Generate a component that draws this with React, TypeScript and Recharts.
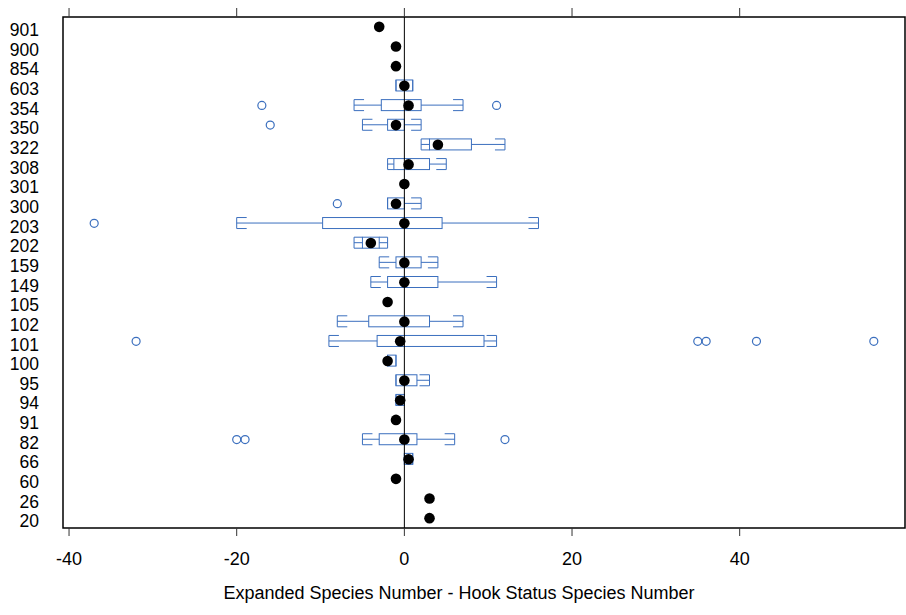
import React from 'react'
import { ComposedChart, Bar, Scatter, XAxis, YAxis, ReferenceLine, ReferenceArea, Label } from 'recharts'

// rows, top to bottom
const categories = ['901', '900', '854', '603', '354', '350', '322', '308', '301', '300', '203', '202', '159', '149', '105', '102', '101', '100', '95', '94', '91', '82', '66', '60', '26', '20']
const medians = [-3, -1, -1, 0, 0.5, -1, 4, 0.5, 0, -1, 0, -4, 0, 0, -2, 0, -0.5, -2, 0, -0.5, -1, 0, 0.5, -1, 3, 3]
const whiskerLow = [null, null, null, -1, -6, -5, 2, -2, null, -2, -20, -6, -3, -4, null, -8, -9, -2, -1, -1, null, -5, 0, null, null, null]
const boxLow = [null, null, null, -1, -2.75, -2, 3, -1.25, null, -2, -9.75, -5, -1, -2, null, -4.25, -3.25, -2, -1, -1, null, -3, 0, null, null, null]
const boxHigh = [null, null, null, 1, 2, 0, 8, 3, null, 0, 4.5, -3, 2, 4, null, 3, 9.5, -1, 1.5, 0, null, 1.5, 1, null, null, null]
const whiskerHigh = [null, null, null, 1, 7, 2, 12, 5, null, 2, 16, -2, 4, 11, null, 7, 11, -1, 3, 0, null, 6, 1, null, null, null]
const outliers: number[][] = [
  [], [], [], [], [-17, 11], [-16], [], [], [], [-8], [-37], [], [], [], [], [],
  [-32, 35, 36, 42, 56], [], [], [], [], [-20, -19, 12], [], [], [], [],
]
const xTicks = [-40, -20, 0, 20, 40]
const xDomain = [-40.72, 59.72]

const BLUE = '#3b6fbe'
const FONT = '"Liberation Sans", Arial, sans-serif'

const rows = categories.map((cat, i) => {
  const row: Record<string, any> = { cat, median: medians[i] }
  if (boxLow[i] != null) {
    row.lo = [whiskerLow[i], boxLow[i]]
    row.box = [boxLow[i], boxHigh[i]]
    row.hi = [boxHigh[i], whiskerHigh[i]]
  }
  outliers[i].forEach((v, k) => {
    row['out' + k] = v
  })
  return row
})

const maxOut = Math.max(...outliers.map(o => o.length))

function whiskerShape(side: 'left' | 'right') {
  return (props: any) => {
    const { x, y, width, height, payload } = props
    if (!payload || !payload.box || !Number.isFinite(x) || !Number.isFinite(width)) return <g />
    const x0 = Math.min(x, x + width)
    const x1 = Math.max(x, x + width)
    const cy = y + height / 2
    const len = Math.min(10, x1 - x0)
    const capX = side === 'left' ? x0 : x1
    const inner = side === 'left' ? x0 + len : x1 - len
    return (
      <g stroke={BLUE} strokeWidth={1} fill="none">
        <line x1={x0} x2={x1} y1={cy} y2={cy} />
        <line x1={capX} x2={capX} y1={y} y2={y + height} />
        <line x1={capX} x2={inner} y1={y} y2={y} />
        <line x1={capX} x2={inner} y1={y + height} y2={y + height} />
      </g>
    )
  }
}

const boxShape = (props: any) => {
  const { x, y, width, height, payload } = props
  if (!payload || !payload.box || !Number.isFinite(x) || !Number.isFinite(width)) return <g />
  return <rect x={Math.min(x, x + width)} y={y} width={Math.abs(width)} height={height} fill="none" stroke={BLUE} strokeWidth={1} />
}

const medianDot = (props: any) => {
  const { cx, cy } = props
  if (!Number.isFinite(cx) || !Number.isFinite(cy)) return <g />
  return <circle cx={cx} cy={cy} r={5.3} fill="#000" />
}

const outlierDot = (props: any) => {
  const { cx, cy } = props
  if (!Number.isFinite(cx) || !Number.isFinite(cy)) return <g />
  return <circle cx={cx} cy={cy} r={4} fill="none" stroke={BLUE} strokeWidth={1.2} />
}

export default function App() {
  return (
    <div style={{ position: 'absolute', left: 0, top: 0, fontFamily: FONT, background: '#fff' }}>
      <ComposedChart
        width={906}
        height={615}
        data={rows}
        layout="vertical"
        margin={{ top: 0, right: 1, bottom: 0, left: 0 }}
        barGap={-11}
      >
        <XAxis
          type="number"
          domain={xDomain}
          allowDataOverflow
          ticks={xTicks}
          height={87}
          tickSize={8}
          tickMargin={16}
          axisLine={false}
          tickLine={{ stroke: '#333' }}
          tick={{ fill: '#000', fontSize: 18 }}
        >
          <Label
            content={() => (
              <text x={459} y={599} textAnchor="middle" fontSize={18} fill="#000" fontFamily={FONT}>
                Expanded Species Number - Hook Status Species Number
              </text>
            )}
          />
        </XAxis>
        <XAxis
          xAxisId="top"
          orientation="top"
          type="number"
          domain={xDomain}
          allowDataOverflow
          ticks={xTicks}
          height={17}
          tickSize={9}
          axisLine={false}
          tickLine={{ stroke: '#333' }}
          tickFormatter={() => ''}
        />
        <YAxis
          type="category"
          dataKey="cat"
          width={63}
          tickSize={0}
          tickMargin={24}
          axisLine={false}
          tickLine={false}
          interval={0}
          tick={{ fill: '#000', fontSize: 17.5, dy: 3 }}
        />
        <ReferenceArea x1={xDomain[0]} x2={xDomain[1]} fill="none" fillOpacity={0} stroke="#000" strokeWidth={1.5} />
        <Bar dataKey="lo" barSize={11} shape={whiskerShape('left')} isAnimationActive={false} />
        <Bar dataKey="box" barSize={11} shape={boxShape} isAnimationActive={false} />
        <Bar dataKey="hi" barSize={11} shape={whiskerShape('right')} isAnimationActive={false} />
        <ReferenceLine x={0} stroke="#000" strokeWidth={1} />
        {Array.from({ length: maxOut }, (_, k) => (
          <Scatter key={k} dataKey={'out' + k} shape={outlierDot} isAnimationActive={false} />
        ))}
        <Scatter dataKey="median" shape={medianDot} isAnimationActive={false} />
      </ComposedChart>
    </div>
  )
}
